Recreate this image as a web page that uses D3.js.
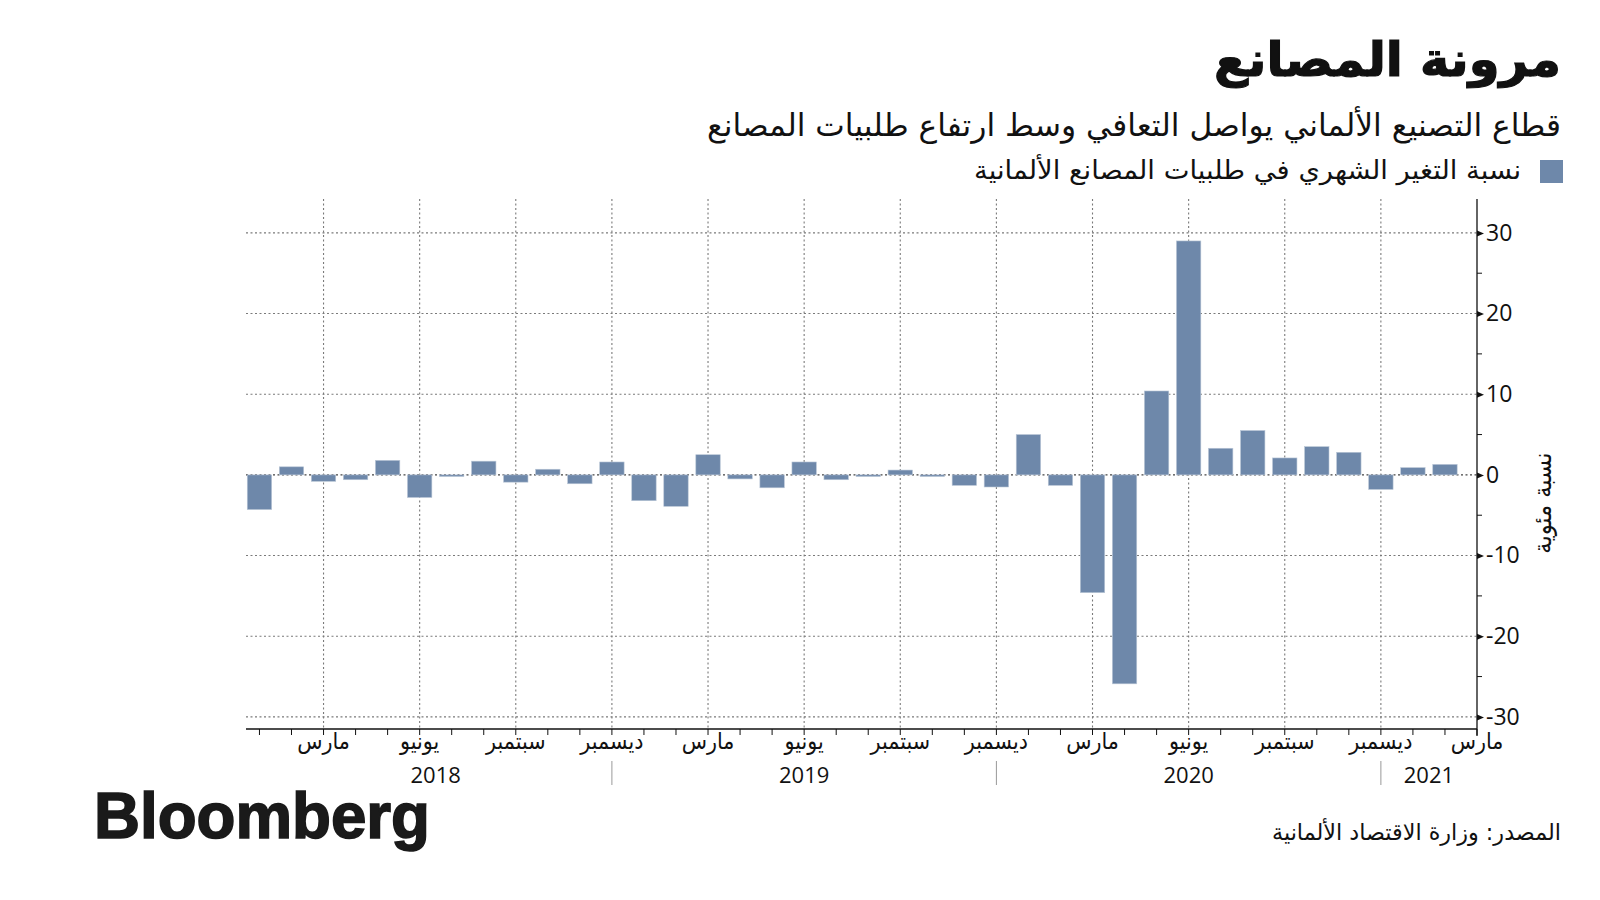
<!DOCTYPE html>
<html>
<head>
<meta charset="utf-8">
<script src="https://cdn.jsdelivr.net/npm/d3@7/dist/d3.min.js"></script>
<style>
  html, body { margin: 0; padding: 0; background: #ffffff; }
  svg { display: block; }
  .ar { font-family: "DejaVu Sans Condensed", "DejaVu Sans", sans-serif; }
  .num { font-family: "Open Sans", "DejaVu Sans", sans-serif; }
</style>
</head>
<body>
<svg id="chart" width="1600" height="900"></svg>
<script>
// ---------- DATA ----------
const months = [
  "2018-01","2018-02","2018-03","2018-04","2018-05","2018-06","2018-07","2018-08","2018-09","2018-10","2018-11","2018-12",
  "2019-01","2019-02","2019-03","2019-04","2019-05","2019-06","2019-07","2019-08","2019-09","2019-10","2019-11","2019-12",
  "2020-01","2020-02","2020-03","2020-04","2020-05","2020-06","2020-07","2020-08","2020-09","2020-10","2020-11","2020-12",
  "2021-01","2021-02"
];
const values = [
  -4.3, 1.0, -0.8, -0.6, 1.8, -2.8, -0.2, 1.7, -0.9, 0.7, -1.1, 1.6,
  -3.2, -3.9, 2.5, -0.5, -1.6, 1.6, -0.6, -0.2, 0.6, -0.2, -1.3, -1.5,
  5.0, -1.3, -14.6, -25.9, 10.4, 29.0, 3.3, 5.5, 2.1, 3.5, 2.8, -1.8,
  0.9, 1.3
];
const monthTicks = ["2018-03","2018-06","2018-09","2018-12","2019-03","2019-06","2019-09","2019-12","2020-03","2020-06","2020-09","2020-12","2021-03"];
const monthTickLabels = ["مارس","يونيو","سبتمبر","ديسمبر","مارس","يونيو","سبتمبر","ديسمبر","مارس","يونيو","سبتمبر","ديسمبر","مارس"];
const yearLabels = ["2018","2019","2020","2021"];
const yearStarts = ["2018-01","2018-12","2019-12","2020-12"];
const yearEnds   = ["2018-12","2019-12","2020-12","2021-03"];
const yearSeparators = ["2018-12","2019-12","2020-12"];
const yMajorTicks = [-30,-20,-10,0,10,20,30];
const yMinorTicks = [-25,-15,-5,5,15,25];

const titleText = "مرونة المصانع";
const subtitleText = "قطاع التصنيع الألماني يواصل التعافي وسط ارتفاع طلبيات المصانع";
const legendText = "نسبة التغير الشهري في طلبيات المصانع الألمانية";
const yTitleText = "نسبة مئوية";
const sourceText = "المصدر: وزارة الاقتصاد الألمانية";

// ---------- LAYOUT ----------
const barColor = "#6e88aa";
const gridColor = "#7a7a7a";
const pLeft = 246, pRight = 1477, pTop = 199, pBottom = 729;

const svg = d3.select("#chart");

// month string -> index (months since 2018-01)
const mIndex = s => { const [yy, mm] = s.split("-").map(Number); return (yy - 2018) * 12 + (mm - 1); };

const x = d3.scaleLinear().domain([-0.42, 38]).range([pLeft, pRight]);
const y = d3.scaleLinear().domain([-31.5, 34.2]).range([pBottom, pTop]);
const barW = 24.4;

// ---------- GRID ----------
const grid = svg.append("g");
grid.selectAll("line.h").data(yMajorTicks).join("line")
  .attr("x1", pLeft).attr("x2", pRight)
  .attr("y1", d => y(d)).attr("y2", d => y(d))
  .attr("stroke", d => d === 0 ? "#444" : gridColor)
  .attr("stroke-width", 1.1)
  .attr("stroke-dasharray", "2,2.5");
grid.selectAll("line.v").data(monthTicks.slice(0, -1)).join("line")
  .attr("x1", d => x(mIndex(d))).attr("x2", d => x(mIndex(d)))
  .attr("y1", pTop).attr("y2", pBottom)
  .attr("stroke", gridColor)
  .attr("stroke-width", 1.1)
  .attr("stroke-dasharray", "2,2.5");

// ---------- BARS ----------
svg.append("g").selectAll("rect").data(values).join("rect")
  .attr("x", (d, i) => x(mIndex(months[i])) - barW / 2)
  .attr("width", barW)
  .attr("y", d => y(Math.max(0, d)))
  .attr("height", d => Math.abs(y(d) - y(0)))
  .attr("fill", barColor)
  .attr("stroke", "#b9c6d6")
  .attr("stroke-width", 0.6);

// ---------- Y AXIS (right) ----------
const yAxis = d3.axisRight(y).tickValues(yMajorTicks).tickSize(0).tickPadding(9)
  .tickFormat(d => String(d));
const ya = svg.append("g").attr("transform", `translate(${pRight},0)`).call(yAxis);
ya.select(".domain").remove();
ya.selectAll("text").attr("class", "num").attr("font-size", 23).attr("fill", "#111");
ya.selectAll(".tick").append("path").attr("d", "M0,-3L7,0L0,3Z").attr("fill", "#111");
svg.append("line").attr("x1", pRight).attr("x2", pRight).attr("y1", pTop).attr("y2", pBottom + 7)
  .attr("stroke", "#111").attr("stroke-width", 1.3);
svg.append("g").selectAll("line").data(yMinorTicks).join("line")
  .attr("x1", pRight).attr("x2", pRight + 5)
  .attr("y1", d => y(d)).attr("y2", d => y(d))
  .attr("stroke", "#111").attr("stroke-width", 1);

// Y title
svg.append("text").attr("class", "ar")
  .attr("transform", `translate(1544,${y(-3.5)}) rotate(-90)`)
  .attr("text-anchor", "middle").attr("dominant-baseline", "middle")
  .attr("font-size", 25).attr("fill", "#111")
  .text(yTitleText);

// ---------- X AXIS ----------
svg.append("line").attr("x1", pLeft).attr("x2", pRight).attr("y1", pBottom).attr("y2", pBottom)
  .attr("stroke", "#111").attr("stroke-width", 1.3);
const allTickMonths = months.concat(["2021-03"]);
svg.append("g").selectAll("line").data(allTickMonths).join("line")
  .attr("x1", d => x(mIndex(d))).attr("x2", d => x(mIndex(d)))
  .attr("y1", pBottom).attr("y2", pBottom + 6)
  .attr("stroke", "#111").attr("stroke-width", 1);

svg.append("g").selectAll("text").data(monthTicks).join("text")
  .attr("class", "ar")
  .attr("x", d => x(mIndex(d))).attr("y", pBottom + 20)
  .attr("text-anchor", "middle").attr("font-size", 23).attr("fill", "#111")
  .text((d, i) => monthTickLabels[i]);

svg.append("g").selectAll("text").data(yearLabels).join("text")
  .attr("class", "num")
  .attr("x", (d, i) => x((mIndex(yearStarts[i]) + mIndex(yearEnds[i])) / 2))
  .attr("y", pBottom + 54)
  .attr("text-anchor", "middle").attr("font-size", 22).attr("fill", "#111")
  .text(d => d);

svg.append("g").selectAll("line").data(yearSeparators).join("line")
  .attr("x1", d => x(mIndex(d))).attr("x2", d => x(mIndex(d)))
  .attr("y1", pBottom + 32).attr("y2", pBottom + 56)
  .attr("stroke", "#999").attr("stroke-width", 1);

// ---------- TITLES ----------
svg.append("text").attr("class", "ar")
  .attr("x", 1561).attr("y", 76).attr("text-anchor", "end")
  .attr("font-size", 48).attr("font-weight", "bold").attr("fill", "#111")
  .attr("stroke", "#111").attr("stroke-width", 1.2)
  .attr("textLength", 347).attr("lengthAdjust", "spacingAndGlyphs")
  .text(titleText);

svg.append("text").attr("class", "ar")
  .attr("x", 1561).attr("y", 136).attr("text-anchor", "end")
  .attr("font-size", 31).attr("fill", "#111")
  .attr("textLength", 854).attr("lengthAdjust", "spacingAndGlyphs")
  .text(subtitleText);

svg.append("rect").attr("x", 1540).attr("y", 160).attr("width", 23).attr("height", 23).attr("fill", barColor);
svg.append("text").attr("class", "ar")
  .attr("x", 1521).attr("y", 179).attr("text-anchor", "end")
  .attr("font-size", 26).attr("fill", "#111")
  .attr("textLength", 547).attr("lengthAdjust", "spacingAndGlyphs")
  .text(legendText);

// ---------- FOOTER ----------
svg.append("text")
  .attr("x", 94).attr("y", 838)
  .attr("font-family", "'Liberation Sans', Arial, sans-serif")
  .attr("font-weight", "bold").attr("font-size", 64).attr("fill", "#1a1a1a")
  .attr("stroke", "#1a1a1a").attr("stroke-width", 1.6)
  .attr("textLength", 336).attr("lengthAdjust", "spacingAndGlyphs")
  .text("Bloomberg");

svg.append("text").attr("class", "ar")
  .attr("x", 1561).attr("y", 840).attr("text-anchor", "end")
  .attr("font-size", 23).attr("fill", "#111")
  .attr("textLength", 289).attr("lengthAdjust", "spacingAndGlyphs")
  .text(sourceText);
</script>
</body>
</html>
